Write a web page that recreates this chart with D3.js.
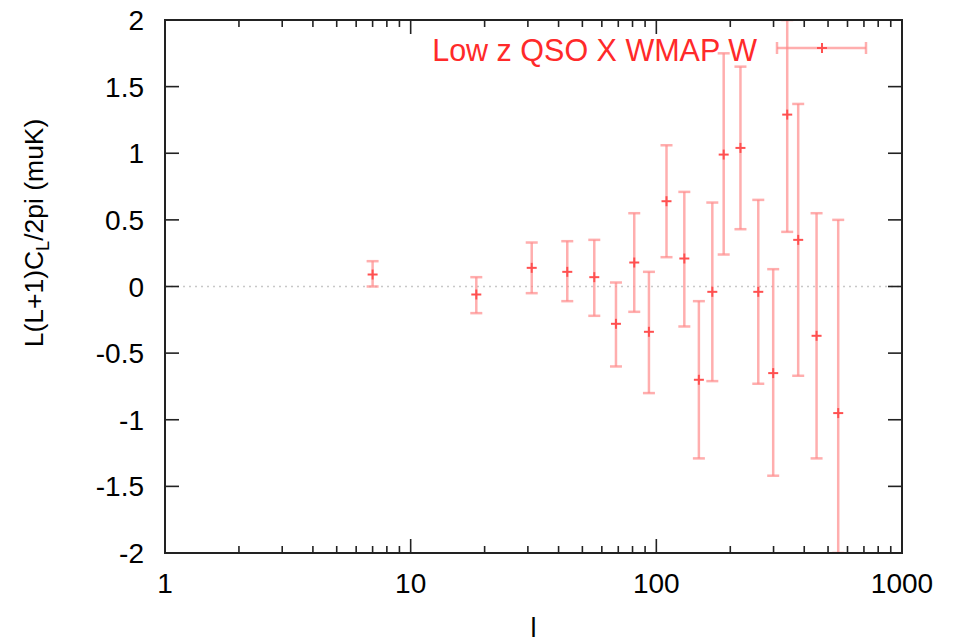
<!DOCTYPE html>
<html>
<head>
<meta charset="utf-8">
<script src="https://cdn.jsdelivr.net/npm/d3@7"></script>
<style>
  body { margin: 0; background: #fff; }
  svg { display: block; }
  text { font-family: "Liberation Sans", Arial, Helvetica, sans-serif; }
</style>
</head>
<body>
<svg id="chart" width="959" height="644"></svg>
<script>
// ---- data ----
const ell   = [7.0, 18.5, 31.1, 43.4, 55.9, 68.5, 81.3, 93.3, 110, 130, 149, 169, 188, 220, 260, 299, 341, 378, 449, 550];
const value = [0.09, -0.06, 0.14, 0.11, 0.07, -0.28, 0.18, -0.34, 0.64, 0.21, -0.70, -0.04, 0.99, 1.04, -0.04, -0.65, 1.29, 0.35, -0.37, -0.95];
const lower = [0.00, -0.20, -0.05, -0.11, -0.22, -0.60, -0.19, -0.80, 0.22, -0.30, -1.29, -0.71, 0.24, 0.43, -0.73, -1.42, 0.41, -0.67, -1.29, -2.0];
const upper = [0.19, 0.07, 0.33, 0.34, 0.35, 0.03, 0.55, 0.11, 1.06, 0.71, -0.11, 0.63, 1.75, 1.65, 0.65, 0.13, 2.0, 1.37, 0.55, 0.50];
const xTicks = [1, 10, 100, 1000];
const xTickLabels = ["1", "10", "100", "1000"];
const yTicks = [-2, -1.5, -1, -0.5, 0, 0.5, 1, 1.5, 2];
const yTickLabels = ["-2", "-1.5", "-1", "-0.5", "0", "0.5", "1", "1.5", "2"];
const seriesName = "Low z QSO X WMAP W";
const legendSample = { left: -45, right: 44 };

const svg = d3.select("#chart");
const m = { left: 165, right: 902, top: 20, bottom: 553 };

const x = d3.scaleLog().domain([1, 1000]).range([m.left, m.right]);
const y = d3.scaleLinear().domain([-2, 2]).range([m.bottom, m.top]);

const data = ell.map((l, i) => ({ l, v: value[i], lo: lower[i], hi: upper[i] }));

svg.append("defs").append("clipPath").attr("id", "clip")
  .append("rect").attr("x", m.left).attr("y", m.top - 1)
  .attr("width", m.right - m.left).attr("height", m.bottom - m.top + 2);

// zero line
svg.append("line")
  .attr("x1", m.left).attr("x2", m.right)
  .attr("y1", y(0)).attr("y2", y(0))
  .attr("stroke", "#c8c8c8").attr("stroke-width", 1.5)
  .attr("stroke-dasharray", "2,4");

// error bars
const barColor = "#ff8c8c";
const g = svg.append("g").attr("clip-path", "url(#clip)");
const cap = 6, mk = 5;
const eb = g.selectAll("g.eb").data(data).join("g").attr("class", "eb");
eb.append("line")
  .attr("x1", d => x(d.l)).attr("x2", d => x(d.l))
  .attr("y1", d => y(d.lo)).attr("y2", d => y(d.hi))
  .attr("stroke", barColor).attr("stroke-opacity", 0.7).attr("stroke-width", 2.5);
eb.append("line")
  .attr("x1", d => x(d.l) - cap).attr("x2", d => x(d.l) + cap)
  .attr("y1", d => y(d.hi)).attr("y2", d => y(d.hi))
  .attr("stroke", barColor).attr("stroke-opacity", 0.7).attr("stroke-width", 2.5);
eb.append("line")
  .attr("x1", d => x(d.l) - cap).attr("x2", d => x(d.l) + cap)
  .attr("y1", d => y(d.lo)).attr("y2", d => y(d.lo))
  .attr("stroke", barColor).attr("stroke-opacity", 0.7).attr("stroke-width", 2.5);
eb.append("line")
  .attr("x1", d => x(d.l) - mk).attr("x2", d => x(d.l) + mk)
  .attr("y1", d => y(d.v)).attr("y2", d => y(d.v))
  .attr("stroke", "#ff5050").attr("stroke-width", 2);
eb.append("line")
  .attr("x1", d => x(d.l)).attr("x2", d => x(d.l))
  .attr("y1", d => y(d.v) - mk).attr("y2", d => y(d.v) + mk)
  .attr("stroke", "#ff5050").attr("stroke-width", 2);

// ticks (inward) on all four sides
const axisColor = "#222";
const minorX = [];
for (let dec = 1; dec < 1000; dec *= 10) for (let k = 2; k <= 9; k++) minorX.push(dec * k);

function drawX(yPos, dir) {
  svg.selectAll(null).data(xTicks).join("line")
    .attr("x1", d => x(d)).attr("x2", d => x(d))
    .attr("y1", yPos).attr("y2", d => yPos + dir * 14)
    .attr("stroke", axisColor).attr("stroke-width", 1.6);
  svg.selectAll(null).data(minorX).join("line")
    .attr("x1", d => x(d)).attr("x2", d => x(d))
    .attr("y1", yPos).attr("y2", d => yPos + dir * 7)
    .attr("stroke", axisColor).attr("stroke-width", 1.6);
}
drawX(m.bottom, -1);
drawX(m.top, 1);
function drawY(xPos, dir) {
  svg.selectAll(null).data(yTicks).join("line")
    .attr("y1", d => y(d)).attr("y2", d => y(d))
    .attr("x1", xPos).attr("x2", xPos + dir * 14)
    .attr("stroke", axisColor).attr("stroke-width", 1.6);
}
drawY(m.left, 1);
drawY(m.right, -1);

svg.append("rect")
  .attr("x", m.left).attr("y", m.top)
  .attr("width", m.right - m.left).attr("height", m.bottom - m.top)
  .attr("fill", "none").attr("stroke", axisColor).attr("stroke-width", 2);

// tick labels
svg.selectAll(null).data(xTicks).join("text")
  .attr("x", d => x(d)).attr("y", 593)
  .attr("text-anchor", "middle").attr("font-size", 28).attr("fill", "#000")
  .text((d, i) => xTickLabels[i]);
svg.selectAll(null).data(yTicks).join("text")
  .attr("x", 144).attr("y", d => y(d) + 10)
  .attr("text-anchor", "end").attr("font-size", 28).attr("fill", "#000")
  .text((d, i) => yTickLabels[i]);

// axis titles
svg.append("text").attr("x", x(31.6)).attr("y", 637)
  .attr("text-anchor", "middle").attr("font-size", 27).text("l");
const yt = svg.append("text")
  .attr("transform", "translate(43,233) rotate(-90)")
  .attr("text-anchor", "middle").attr("font-size", 26.5);
yt.append("tspan").text("L(L+1)C");
yt.append("tspan").attr("font-size", 18).attr("dy", 6).text("L");
yt.append("tspan").attr("dy", -6).text("/2pi (muK)");

// legend
svg.append("text").attr("x", 757).attr("y", 61)
  .attr("text-anchor", "end").attr("font-size", 30.5).attr("fill", "#ff2a2a")
  .text(seriesName);
const lx = 822, ly = 48;
const lg = svg.append("g");
lg.append("line").attr("x1", lx + legendSample.left).attr("x2", lx + legendSample.right)
  .attr("y1", ly).attr("y2", ly)
  .attr("stroke", barColor).attr("stroke-opacity", 0.7).attr("stroke-width", 2.5);
[legendSample.left, legendSample.right].forEach(o => {
  lg.append("line").attr("x1", lx + o).attr("x2", lx + o)
    .attr("y1", ly - 6).attr("y2", ly + 6)
    .attr("stroke", barColor).attr("stroke-opacity", 0.7).attr("stroke-width", 2.5);
});
lg.append("line").attr("x1", lx - mk).attr("x2", lx + mk).attr("y1", ly).attr("y2", ly)
  .attr("stroke", "#ff5050").attr("stroke-width", 2);
lg.append("line").attr("x1", lx).attr("x2", lx).attr("y1", ly - mk).attr("y2", ly + mk)
  .attr("stroke", "#ff5050").attr("stroke-width", 2);
</script>
</body>
</html>
